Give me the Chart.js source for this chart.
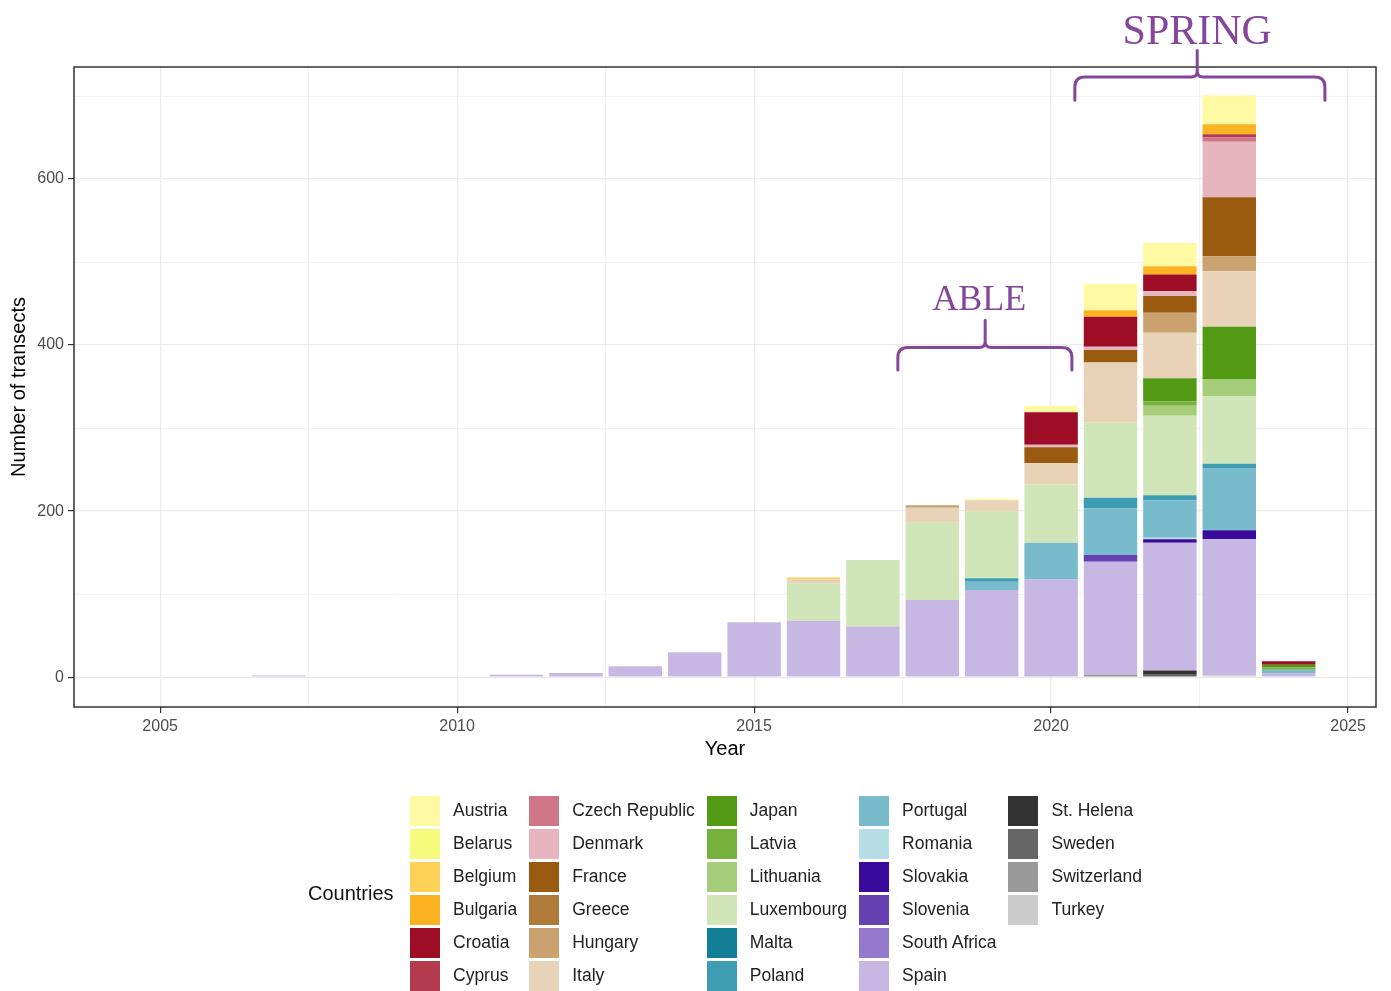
<!DOCTYPE html>
<html>
<head>
<meta charset="utf-8">
<title>Number of transects per year</title>
<script src="https://cdn.jsdelivr.net/npm/chart.js@4.4.1/dist/chart.umd.min.js"></script>
<style>
  body { margin: 0; background: #fff; }
  #wrap { position: relative; width: 1391px; height: 991px; }
  #myChart { position: absolute; left: 0; top: 0; }
  #legend {
    position: absolute; left: 308px; top: 794px; height: 198px;
    display: flex; align-items: center;
    font-family: "Liberation Sans", Arial, sans-serif;
  }
  #legend .ttl { font-size: 20px; color: #111; width: 90px; margin-right: 12px; white-space: nowrap; }
  #legend .col { display: flex; flex-direction: column; margin-right: 12px; align-self: flex-start; }
  #legend .item { display: flex; align-items: center; height: 33px; }
  #legend .sw { width: 30px; height: 30px; margin-right: 13px; }
  #legend .lbl { font-size: 17.5px; color: #222; white-space: nowrap; }
</style>
</head>
<body>
<div id="wrap">
  <canvas id="myChart" width="1391" height="991"></canvas>
  <div id="legend"><div class="ttl">Countries</div></div>
</div>
<script>
// data
const years = [2007, 2011, 2012, 2013, 2014, 2015, 2016, 2017, 2018, 2019, 2020, 2021, 2022, 2023, 2024];

const austria       = [0, 0, 0, 0, 0, 0, 0, 0, 0, 2, 8, 32, 28, 35, 0];
const belarus       = [0, 0, 0, 0, 0, 0, 0, 0, 0, 0, 0, 0, 0, 0, 0];
const belgium       = [0, 0, 0, 0, 0, 0, 2, 0, 0, 0, 0, 0, 0, 0, 0];
const bulgaria      = [0, 0, 0, 0, 0, 0, 0, 0, 0, 0, 0, 8, 10, 12, 0];
const croatia       = [0, 0, 0, 0, 0, 0, 0, 0, 0, 0, 39, 36, 20, 0, 4];
const cyprus        = [0, 0, 0, 0, 0, 0, 0, 0, 0, 0, 0, 0, 0, 4, 0];
const czechRepublic = [0, 0, 0, 0, 0, 0, 0, 0, 0, 0, 0, 0, 0, 5, 0];
const denmark       = [0, 0, 0, 0, 0, 0, 0, 0, 0, 0, 3, 4, 6, 67, 0];
const france        = [0, 0, 0, 0, 0, 0, 0, 0, 0, 0, 19, 15, 20, 71, 0];
const greece        = [0, 0, 0, 0, 0, 0, 0, 0, 0, 0, 0, 0, 0, 0, 0];
const hungary       = [0, 0, 0, 0, 0, 0, 0, 0, 3, 0, 0, 0, 24, 18, 0];
const italy         = [0, 0, 0, 0, 0, 0, 5, 0, 18, 13, 26, 72, 55, 67, 0];
const japan         = [0, 0, 0, 0, 0, 0, 0, 0, 0, 0, 0, 0, 28, 63, 3];
const latvia        = [0, 0, 0, 0, 0, 0, 0, 0, 0, 0, 0, 0, 5, 0, 3];
const lithuania     = [0, 0, 0, 0, 0, 0, 0, 0, 0, 0, 0, 0, 12, 21, 0];
const luxembourg    = [0, 0, 0, 0, 0, 0, 45, 80, 93, 81, 70, 91, 96, 81, 0];
const malta         = [0, 0, 0, 0, 0, 0, 0, 0, 0, 0, 0, 0, 0, 0, 0];
const poland        = [0, 0, 0, 0, 0, 0, 0, 0, 0, 4, 0, 13, 6, 5, 0];
const portugal      = [0, 0, 0, 0, 0, 0, 0, 0, 0, 10, 44, 56, 45, 75, 4];
const romania       = [0, 0, 0, 0, 0, 0, 0, 0, 0, 0, 0, 0, 2, 0, 0];
const slovakia      = [0, 0, 0, 0, 0, 0, 0, 0, 0, 0, 0, 0, 4, 11, 0];
const slovenia      = [0, 0, 0, 0, 0, 0, 0, 0, 0, 0, 0, 8, 0, 0, 0];
const southAfrica   = [0, 0, 0, 0, 0, 0, 0, 0, 0, 0, 0, 0, 0, 0, 0];
const spain         = [2, 3, 5, 13, 30, 66, 68, 61, 93, 105, 118, 136, 154, 164, 5];
const stHelena      = [0, 0, 0, 0, 0, 0, 0, 0, 0, 0, 0, 0, 5, 0, 0];
const sweden        = [0, 0, 0, 0, 0, 0, 0, 0, 0, 0, 0, 0, 3, 0, 0];
const switzerland   = [0, 0, 0, 0, 0, 0, 0, 0, 0, 0, 0, 3, 0, 0, 0];
const turkey        = [0, 0, 0, 0, 0, 0, 0, 0, 0, 0, 0, 0, 0, 2, 0];

const countries = ['Austria', 'Belarus', 'Belgium', 'Bulgaria', 'Croatia', 'Cyprus',
  'Czech Republic', 'Denmark', 'France', 'Greece', 'Hungary', 'Italy',
  'Japan', 'Latvia', 'Lithuania', 'Luxembourg', 'Malta', 'Poland',
  'Portugal', 'Romania', 'Slovakia', 'Slovenia', 'South Africa', 'Spain',
  'St. Helena', 'Sweden', 'Switzerland', 'Turkey'];

const series = [austria, belarus, belgium, bulgaria, croatia, cyprus,
  czechRepublic, denmark, france, greece, hungary, italy,
  japan, latvia, lithuania, luxembourg, malta, poland,
  portugal, romania, slovakia, slovenia, southAfrica, spain,
  stHelena, sweden, switzerland, turkey];

const colors = ['#FFF9A3', '#F7FB7C', '#FDD257', '#FCB322', '#9D0D26', '#B43A4E',
  '#CF7687', '#E6B5BE', '#9A5A10', '#B07A3A', '#C9A270', '#E8D3B8',
  '#529A14', '#78B23E', '#A5CD7A', '#D0E5B8', '#137F96', '#3E9DB2',
  '#78BCCB', '#B7DDE5', '#3A0A9C', '#6440B0', '#9478CC', '#C6B7E3',
  '#333333', '#666666', '#999999', '#CCCCCC'];

// annotations (data units)
const notes = [
  {label: 'ABLE', size: 36, from: 2017.42, to: 2020.35, mid: 2018.89, y: 397, tip: 430, end: 370, textX: 2018.79, textY: 442},
  {label: 'SPRING', size: 42, from: 2020.40, to: 2024.61, mid: 2022.46, y: 723, tip: 755, end: 695, textX: 2022.46, textY: 763}
];
const noteColor = '#84479A';

// datasets, first one ends up at the bottom of the stack
const datasets = [];
for (let i = countries.length - 1; i >= 0; i--) {
  datasets.push({
    label: countries[i],
    data: years.map((yr, j) => ({x: yr, y: series[i][j] === 0 ? null : series[i][j]})),
    backgroundColor: colors[i],
    borderWidth: 0,
    barPercentage: 0.9,
    categoryPercentage: 1.0
  });
}

//frame round the panel
const frame = {
  id: 'frame',
  afterDraw(chart) {
    const {ctx, chartArea: a} = chart;
    ctx.save();
    ctx.strokeStyle = '#333';
    ctx.lineWidth = 1.5;
    ctx.strokeRect(a.left, a.top, a.right - a.left, a.bottom - a.top);
    ctx.restore();
  }
};

//curly braces + labels
const braces = {
  id: 'braces',
  afterDraw(chart) {
    const {ctx, scales: {x, y}} = chart;
    ctx.save();
    ctx.strokeStyle = noteColor;
    ctx.fillStyle = noteColor;
    ctx.lineWidth = 3;
    ctx.lineCap = 'round';
    ctx.lineJoin = 'round';
    notes.forEach(n => {
      const x0 = x.getPixelForValue(n.from);
      const x1 = x.getPixelForValue(n.to);
      const xm = x.getPixelForValue(n.mid);
      const yb = y.getPixelForValue(n.y);
      const yt = y.getPixelForValue(n.tip);
      const ye = y.getPixelForValue(n.end);
      const r = 10, r2 = 6;
      ctx.beginPath();
      ctx.moveTo(x0, ye);
      ctx.lineTo(x0, yb + r);
      ctx.quadraticCurveTo(x0, yb, x0 + r, yb);
      ctx.lineTo(xm - r2, yb);
      ctx.quadraticCurveTo(xm, yb, xm, yb - r2);
      ctx.lineTo(xm, yt);
      ctx.moveTo(xm, yb - r2);
      ctx.quadraticCurveTo(xm, yb, xm + r2, yb);
      ctx.lineTo(x1 - r, yb);
      ctx.quadraticCurveTo(x1, yb, x1, yb + r);
      ctx.lineTo(x1, ye);
      ctx.stroke();
      ctx.font = n.size + 'px "Liberation Serif", "Times New Roman", serif';
      ctx.textAlign = 'center';
      ctx.textBaseline = 'alphabetic';
      ctx.fillText(n.label, x.getPixelForValue(n.textX), y.getPixelForValue(n.textY));
    });
    ctx.restore();
  }
};

Chart.defaults.font.family = '"Liberation Sans", Arial, sans-serif';

// config
const config = {
  type: 'bar',
  data: {datasets: datasets},
  options: {
    responsive: false,
    animation: false,
    layout: {padding: {top: 67, right: 15, bottom: 226, left: 0}},
    plugins: {legend: {display: false}, tooltip: {enabled: false}},
    scales: {
      x: {
        type: 'linear',
        stacked: true,
        offset: false,
        min: 2003.55,
        max: 2025.47,
        border: {display: false},
        grid: {
          offset: false,
          color: '#EBEBEB',
          lineWidth: c => (c.tick && c.tick.value % 5 === 0) ? 1.2 : 0.6,
          tickLength: 6,
          tickColor: c => (c.tick && c.tick.value % 5 === 0) ? '#333' : 'rgba(0,0,0,0)',
          tickWidth: 1.2
        },
        ticks: {
          stepSize: 2.5,
          includeBounds: false,
          autoSkip: false,
          maxRotation: 0,
          padding: 4,
          color: '#4D4D4D',
          font: {size: 16},
          callback: v => v % 5 === 0 ? String(v) : ''
        },
        title: {display: true, text: 'Year', color: '#000', font: {size: 20}, padding: {top: 4, bottom: 4}},
        afterFit: s => { s.height = 58; }
      },
      y: {
        stacked: true,
        min: -36,
        max: 735,
        border: {display: false},
        grid: {
          color: '#EBEBEB',
          lineWidth: c => (c.tick && c.tick.value % 200 === 0) ? 1.2 : 0.6,
          tickLength: 6,
          tickColor: c => (c.tick && c.tick.value % 200 === 0) ? '#333' : 'rgba(0,0,0,0)',
          tickWidth: 1.2
        },
        ticks: {
          stepSize: 100,
          includeBounds: false,
          autoSkip: false,
          padding: 4,
          color: '#4D4D4D',
          font: {size: 16},
          callback: v => v % 200 === 0 ? String(v) : ''
        },
        title: {display: true, text: 'Number of transects', color: '#000', font: {size: 20}, padding: {top: 7, bottom: 7}},
        afterFit: s => { s.width = 74; }
      }
    }
  },
  plugins: [frame, braces]
};

// render init block
const myChart = new Chart(document.getElementById('myChart'), config);

// legend, 6 rows, filled column by column
const legend = document.getElementById('legend');
for (let c = 0; c < countries.length; c += 6) {
  const col = document.createElement('div');
  col.className = 'col';
  countries.slice(c, c + 6).forEach((name, k) => {
    const item = document.createElement('div');
    item.className = 'item';
    const sw = document.createElement('div');
    sw.className = 'sw';
    sw.style.background = colors[c + k];
    const lbl = document.createElement('span');
    lbl.className = 'lbl';
    lbl.textContent = name;
    item.appendChild(sw);
    item.appendChild(lbl);
    col.appendChild(item);
  });
  legend.appendChild(col);
}
</script>
</body>
</html>
